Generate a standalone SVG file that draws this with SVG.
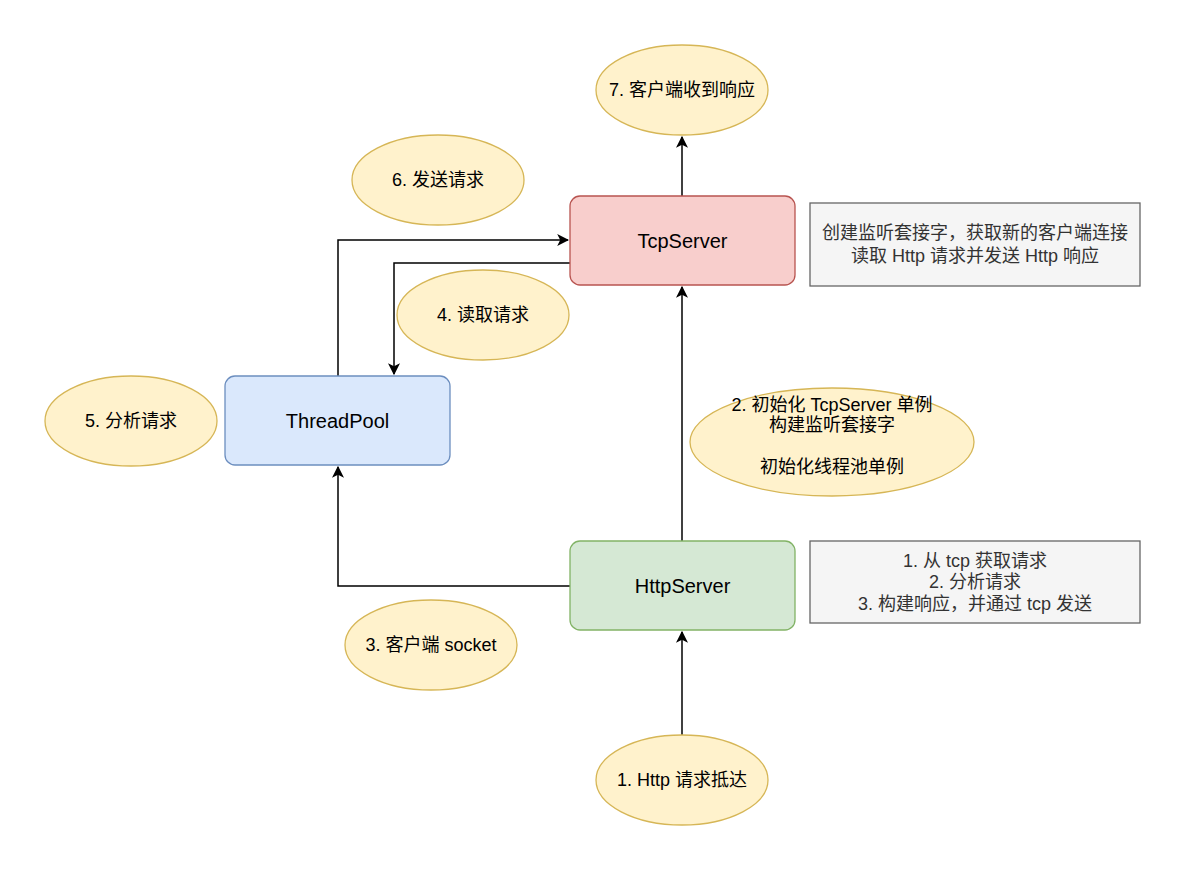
<svg xmlns="http://www.w3.org/2000/svg" width="1187" height="872" viewBox="0 0 1187 872">
<defs>
<style>
text{font-family:"Liberation Sans","Noto Sans CJK SC",sans-serif;text-anchor:middle;dominant-baseline:central;}
.lbl{font-size:18px;fill:#000;}
.node{font-size:20px;fill:#000;}
.note{font-size:18px;fill:#333333;}
.ell{fill:#fff2cc;stroke:#d6b656;stroke-width:1.3;}
.edge{fill:none;stroke:#000;stroke-width:1.5;}
</style>
<marker id="arr" viewBox="0 0 10 10" refX="9" refY="5" markerWidth="12" markerHeight="12" markerUnits="userSpaceOnUse" orient="auto">
<path d="M0,0 L10,5 L0,10 L2.5,5 Z" fill="#000"/>
</marker>
</defs>
<rect width="1187" height="872" fill="#fff"/>
<g id="connectors">
<path class="edge" d="M682,735 V632" marker-end="url(#arr)"/>
<path class="edge" d="M682,541 V287" marker-end="url(#arr)"/>
<path class="edge" d="M570,586 H338 V467" marker-end="url(#arr)"/>
<path class="edge" d="M338,376 V240 H568" marker-end="url(#arr)"/>
<path class="edge" d="M570,263 H394 V374" marker-end="url(#arr)"/>
<path class="edge" d="M682,196 V137" marker-end="url(#arr)"/>
</g>
<g id="n7"><ellipse class="ell" cx="682" cy="90" rx="86" ry="45"/><text class="lbl" x="682" y="90">7. 客户端收到响应</text></g>
<g id="tcpserver"><rect x="570" y="196" width="225" height="89" rx="10" fill="#f8cecc" stroke="#b85450" stroke-width="1.3"/><text class="node" x="682.5" y="240.5">TcpServer</text></g>
<g id="note1"><rect x="810" y="203" width="330" height="83" fill="#f5f5f5" stroke="#666666" stroke-width="1.3"/><text class="note" x="975" y="233">创建监听套接字，获取新的客户端连接</text><text class="note" x="975" y="256">读取 Http 请求并发送 Http 响应</text></g>
<g id="n6"><ellipse class="ell" cx="438" cy="180" rx="86" ry="45"/><text class="lbl" x="438" y="180">6. 发送请求</text></g>
<g id="n4"><ellipse class="ell" cx="483" cy="315" rx="86" ry="45"/><text class="lbl" x="483" y="315">4. 读取请求</text></g>
<g id="threadpool"><rect x="225" y="376" width="225" height="89" rx="10" fill="#dae8fc" stroke="#6c8ebf" stroke-width="1.3"/><text class="node" x="337.5" y="420.5">ThreadPool</text></g>
<g id="n5"><ellipse class="ell" cx="131" cy="421" rx="86" ry="45"/><text class="lbl" x="131" y="421">5. 分析请求</text></g>
<g id="n2"><ellipse class="ell" cx="832" cy="442" rx="142" ry="54"/><text class="lbl" x="832" y="405">2. 初始化 TcpServer 单例</text><text class="lbl" x="832" y="425">构建监听套接字</text><text class="lbl" x="832" y="467">初始化线程池单例</text></g>
<g id="httpserver"><rect x="570" y="541" width="225" height="89" rx="10" fill="#d5e8d4" stroke="#82b366" stroke-width="1.3"/><text class="node" x="682.5" y="585.5">HttpServer</text></g>
<g id="note2"><rect x="810" y="541" width="330" height="82" fill="#f5f5f5" stroke="#666666" stroke-width="1.3"/><text class="note" x="975" y="561">1. 从 tcp 获取请求</text><text class="note" x="975" y="582">2. 分析请求</text><text class="note" x="975" y="604">3. 构建响应，并通过 tcp 发送</text></g>
<g id="n3"><ellipse class="ell" cx="431" cy="645" rx="86" ry="45"/><text class="lbl" x="431" y="645">3. 客户端 socket</text></g>
<g id="n1"><ellipse class="ell" cx="682" cy="780" rx="86" ry="45"/><text class="lbl" x="682" y="780">1. Http 请求抵达</text></g>
</svg>
